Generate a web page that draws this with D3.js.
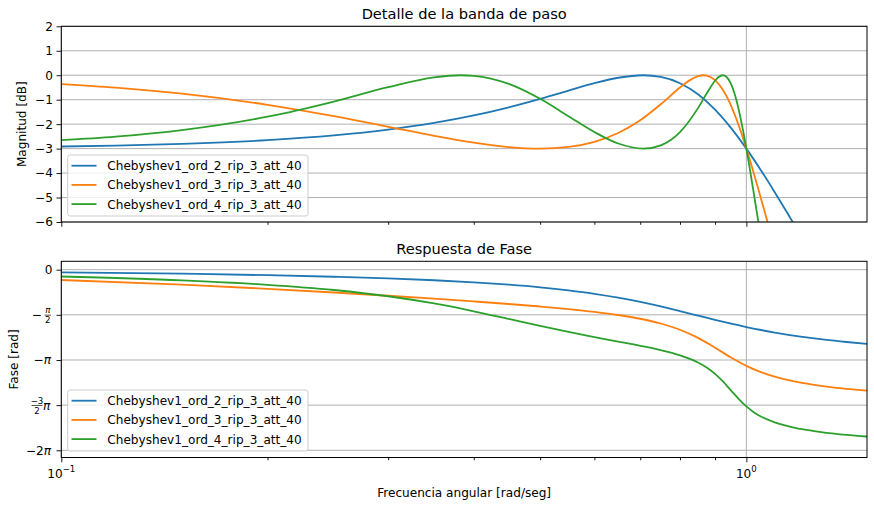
<!DOCTYPE html>
<html>
<head>
<meta charset="utf-8">
<script src="https://cdn.jsdelivr.net/npm/d3@7"></script>
<style>
  body { margin: 0; background: #fff; }
  svg { font-family: "DejaVu Sans", sans-serif; }
</style>
</head>
<body>
<svg id="chart" width="874" height="507"></svg>
<script>
// series names and colours
var seriesNames = ["Chebyshev1_ord_2_rip_3_att_40", "Chebyshev1_ord_3_rip_3_att_40", "Chebyshev1_ord_4_rip_3_att_40"];
var colors = ["#1f77b4", "#ff7f0e", "#2ca02c"];

// magnitude [dB]
var magFreq2 = [0.1, 0.12, 0.15, 0.2, 0.25, 0.3, 0.35, 0.4, 0.45, 0.5, 0.55, 0.6, 0.65, 0.7071, 0.75, 0.8, 0.85, 0.9, 0.95, 1.0, 1.05, 1.1, 1.15, 1.2, 1.3, 1.5];
var magDb2 = [-2.914, -2.875, -2.805, -2.654, -2.460, -2.225, -1.952, -1.644, -1.311, -0.965, -0.627, -0.326, -0.103, 0, -0.067, -0.326, -0.781, -1.407, -2.162, -3.0, -3.883, -4.781, -5.674, -6.549, -8.220, -11.20];

var magFreq3 = [0.1, 0.12, 0.15, 0.2, 0.25, 0.3, 0.35, 0.4, 0.45, 0.5, 0.55, 0.6, 0.65, 0.7, 0.75, 0.8, 0.825, 0.85, 0.866, 0.875, 0.9, 0.925, 0.95, 0.975, 1.0, 1.025, 1.05, 1.075, 1.1, 1.2];
var magDb3 = [-0.363, -0.508, -0.754, -1.209, -1.675, -2.107, -2.475, -2.758, -2.937, -3.0, -2.933, -2.723, -2.360, -1.840, -1.189, -0.505, -0.221, -0.038, 0, -0.013, -0.197, -0.615, -1.252, -2.066, -3.0, -4.000, -5.026, -6.051, -7.056, -10.76];

var magFreq4 = [0.1, 0.12, 0.15, 0.2, 0.25, 0.3, 0.35, 0.3827, 0.4, 0.45, 0.5, 0.55, 0.6, 0.65, 0.7071, 0.75, 0.8, 0.85, 0.875, 0.9, 0.91, 0.924, 0.935, 0.95, 0.96, 0.975, 0.99, 1.0, 1.01, 1.025, 1.05, 1.1];
var magDb4 = [-2.657, -2.509, -2.242, -1.696, -1.075, -0.486, -0.084, 0, -0.024, -0.354, -0.965, -1.676, -2.324, -2.792, -3.0, -2.865, -2.324, -1.345, -0.751, -0.225, -0.083, 0, -0.063, -0.363, -0.709, -1.425, -2.327, -3.0, -3.708, -4.804, -6.636, -10.07];

// phase [rad]
var phaseFreq = [0.1, 0.15, 0.2, 0.25, 0.3, 0.35, 0.4, 0.45, 0.5, 0.55, 0.6, 0.65, 0.7, 0.75, 0.8, 0.85, 0.9, 0.95, 1.0, 1.05, 1.1, 1.2, 1.3, 1.4, 1.5];
var phase2 = [-0.092, -0.140, -0.191, -0.245, -0.303, -0.368, -0.440, -0.521, -0.613, -0.719, -0.838, -0.973, -1.121, -1.279, -1.440, -1.597, -1.745, -1.878, -1.996, -2.098, -2.187, -2.328, -2.435, -2.516, -2.581];
var phase3 = [-0.359, -0.520, -0.665, -0.793, -0.907, -1.009, -1.104, -1.193, -1.281, -1.370, -1.467, -1.576, -1.707, -1.872, -2.089, -2.373, -2.713, -3.057, -3.345, -3.563, -3.722, -3.931, -4.059, -4.145, -4.209];
var phaseFreq4 = [0.1, 0.15, 0.2, 0.25, 0.3, 0.35, 0.4, 0.45, 0.5, 0.55, 0.6, 0.65, 0.7, 0.75, 0.8, 0.85, 0.875, 0.9, 0.925, 0.95, 0.975, 1.0, 1.025, 1.05, 1.1, 1.2, 1.3, 1.4, 1.5];
var phase4 = [-0.237, -0.371, -0.525, -0.707, -0.924, -1.175, -1.447, -1.715, -1.957, -2.166, -2.343, -2.500, -2.648, -2.801, -2.982, -3.231, -3.404, -3.624, -3.897, -4.204, -4.503, -4.757, -4.956, -5.108, -5.315, -5.542, -5.665, -5.746, -5.804];

// ticks
var magTicks = [2, 1, 0, -1, -2, -3, -4, -5, -6];
var phaseTickMult = [0, -0.5, -1, -1.5, -2];   // multiples of pi
var xMajor = [0.1, 1];
var xMinor = [0.2, 0.3, 0.4, 0.5, 0.6, 0.7, 0.8, 0.9];

var svg = d3.select("#chart");
var left = 61.3, right = 867;
var top1 = 26.3, bot1 = 222, top2 = 261.3, bot2 = 457.5;
var fs = 12.1;

var x = d3.scaleLog().domain([0.1, 1.5]).range([left, right]);
var yMag = d3.scaleLinear().domain([-6, 2]).range([bot1, top1]);
var yPh = d3.scaleLinear().domain([-6.534, 0.292]).range([bot2, top2]);

var magSeries = [
  {f: magFreq2, v: magDb2},
  {f: magFreq3, v: magDb3},
  {f: magFreq4, v: magDb4}
];
var phSeries = [
  {f: phaseFreq, v: phase2},
  {f: phaseFreq, v: phase3},
  {f: phaseFreq4, v: phase4}
];

function panel(id, y, yTop, yBot, gridVals, series) {
  var g = svg.append("g");

  g.append("clipPath").attr("id", id)
    .append("rect").attr("x", left).attr("y", yTop)
    .attr("width", right - left).attr("height", yBot - yTop);

  // grid
  g.selectAll(".hgrid").data(gridVals).enter().append("line")
    .attr("x1", left).attr("x2", right)
    .attr("y1", d => y(d)).attr("y2", d => y(d))
    .attr("stroke", "#b0b0b0").attr("stroke-width", 1);
  g.selectAll(".vgrid").data(xMajor).enter().append("line")
    .attr("x1", d => x(d)).attr("x2", d => x(d))
    .attr("y1", yTop).attr("y2", yBot)
    .attr("stroke", "#b0b0b0").attr("stroke-width", 1);

  // curves
  var line = d3.line()
    .x(d => x(d[0])).y(d => y(d[1]))
    .curve(d3.curveMonotoneX);
  series.forEach(function(s, i) {
    g.append("path")
      .datum(s.f.map((f, k) => [f, s.v[k]]))
      .attr("clip-path", "url(#" + id + ")")
      .attr("fill", "none")
      .attr("stroke", colors[i])
      .attr("stroke-width", 1.8)
      .attr("d", line);
  });

  // x ticks (major + minor)
  var xa = g.append("g").attr("transform", "translate(0," + yBot + ")")
    .call(d3.axisBottom(x).tickValues(xMajor).tickSize(4.8).tickFormat(""));
  var xm = g.append("g").attr("transform", "translate(0," + yBot + ")")
    .call(d3.axisBottom(x).tickValues(xMinor).tickSize(2.8).tickFormat(""));
  [xa, xm].forEach(a => {
    a.select(".domain").remove();
    a.selectAll(".tick line").attr("stroke", "#000").attr("stroke-width", 0.9);
  });

  // spines
  g.append("rect").attr("x", left).attr("y", yTop)
    .attr("width", right - left).attr("height", yBot - yTop)
    .attr("fill", "none").attr("stroke", "#000").attr("stroke-width", 1);
  return g;
}

function legend(yBox) {
  var lg = svg.append("g");
  lg.append("rect").attr("x", 67.7).attr("y", yBox)
    .attr("width", 240.3).attr("height", 61).attr("rx", 2.5)
    .attr("fill", "#fff").attr("fill-opacity", 0.8)
    .attr("stroke", "#cccccc").attr("stroke-width", 1);
  seriesNames.forEach(function(name, i) {
    var ry = yBox + 10.7 + i * 19.2;
    lg.append("line").attr("x1", 71.5).attr("x2", 96.5)
      .attr("y1", ry).attr("y2", ry)
      .attr("stroke", colors[i]).attr("stroke-width", 1.8);
    lg.append("text").attr("x", 107.3).attr("y", ry + 4.4)
      .attr("font-size", fs).attr("fill", "#000").text(name);
  });
}

// ---- top panel: magnitude
var g1 = panel("clipMag", yMag, top1, bot1, magTicks, magSeries);
var ya = g1.append("g").attr("transform", "translate(" + left + ",0)")
  .call(d3.axisLeft(yMag).tickValues(magTicks).tickSize(4.8).tickPadding(3.6)
    .tickFormat(d => d < 0 ? "\u2212" + (-d) : String(d)));
ya.select(".domain").remove();
ya.selectAll(".tick line").attr("stroke", "#000").attr("stroke-width", 0.9);
ya.selectAll(".tick text").attr("font-size", fs).attr("font-family", "DejaVu Sans").attr("fill", "#000");

svg.append("text").attr("x", (left + right) / 2).attr("y", 19)
  .attr("text-anchor", "middle").attr("font-size", 14.6).text("Detalle de la banda de paso");
svg.append("text").attr("transform", "translate(26," + ((top1 + bot1) / 2) + ") rotate(-90)")
  .attr("text-anchor", "middle").attr("font-size", fs).text("Magnitud [dB]");
legend(155);

// ---- bottom panel: phase
var phaseTicks = phaseTickMult.map(m => m * Math.PI);
var g2 = panel("clipPh", yPh, top2, bot2, phaseTicks, phSeries);
var yb = g2.append("g").attr("transform", "translate(" + left + ",0)")
  .call(d3.axisLeft(yPh).tickValues(phaseTicks).tickSize(4.8).tickFormat(""));
yb.select(".domain").remove();
yb.selectAll(".tick line").attr("stroke", "#000").attr("stroke-width", 0.9);

// pi tick labels
var small = 8.6;
phaseTickMult.forEach(function(m) {
  var ty = yPh(m * Math.PI);
  var t = svg.append("g").attr("transform", "translate(0," + ty + ")");
  if (m === 0) {
    t.append("text").attr("x", 52.5).attr("y", 4.4).attr("text-anchor", "end")
      .attr("font-size", fs).text("0");
  } else if (m === -1 || m === -2) {
    var tx = t.append("text").attr("x", 51).attr("y", 4.4).attr("text-anchor", "end").attr("font-size", fs);
    tx.append("tspan").text(m === -1 ? "\u2212" : "\u22122");
    tx.append("tspan").attr("font-style", "italic").text("\u03c0");
  } else if (m === -0.5) {
    t.append("text").attr("x", 41.8).attr("y", 4.4).attr("text-anchor", "end")
      .attr("font-size", fs).text("\u2212");
    t.append("line").attr("x1", 44.6).attr("x2", 51).attr("y1", 0.3).attr("y2", 0.3)
      .attr("stroke", "#000").attr("stroke-width", 0.7);
    t.append("text").attr("x", 47.8).attr("y", -1.5).attr("text-anchor", "middle")
      .attr("font-size", small).attr("font-style", "italic").text("\u03c0");
    t.append("text").attr("x", 47.8).attr("y", 8.4).attr("text-anchor", "middle")
      .attr("font-size", small).text("2");
  } else {
    t.append("line").attr("x1", 31.5).attr("x2", 42.5).attr("y1", 0.3).attr("y2", 0.3)
      .attr("stroke", "#000").attr("stroke-width", 0.7);
    t.append("text").attr("x", 37).attr("y", -1.5).attr("text-anchor", "middle")
      .attr("font-size", small).text("\u22123");
    t.append("text").attr("x", 37).attr("y", 8.4).attr("text-anchor", "middle")
      .attr("font-size", small).text("2");
    t.append("text").attr("x", 43).attr("y", 4.4)
      .attr("font-size", fs).attr("font-style", "italic").text("\u03c0");
  }
});

// x tick labels 10^-1, 10^0
[[0.1, "\u22121"], [1, "0"]].forEach(function(p) {
  var tx = svg.append("text").attr("x", x(p[0])).attr("y", 477.5)
    .attr("text-anchor", "middle").attr("font-size", fs);
  tx.append("tspan").text("10");
  tx.append("tspan").attr("dy", -5.5).attr("font-size", small).text(p[1]);
});

svg.append("text").attr("x", (left + right) / 2).attr("y", 254)
  .attr("text-anchor", "middle").attr("font-size", 14.6).text("Respuesta de Fase");
svg.append("text").attr("transform", "translate(18," + ((top2 + bot2) / 2) + ") rotate(-90)")
  .attr("text-anchor", "middle").attr("font-size", fs).text("Fase [rad]");
svg.append("text").attr("x", (left + right) / 2).attr("y", 497)
  .attr("text-anchor", "middle").attr("font-size", fs).text("Frecuencia angular [rad/seg]");
legend(390);
</script>
</body>
</html>
